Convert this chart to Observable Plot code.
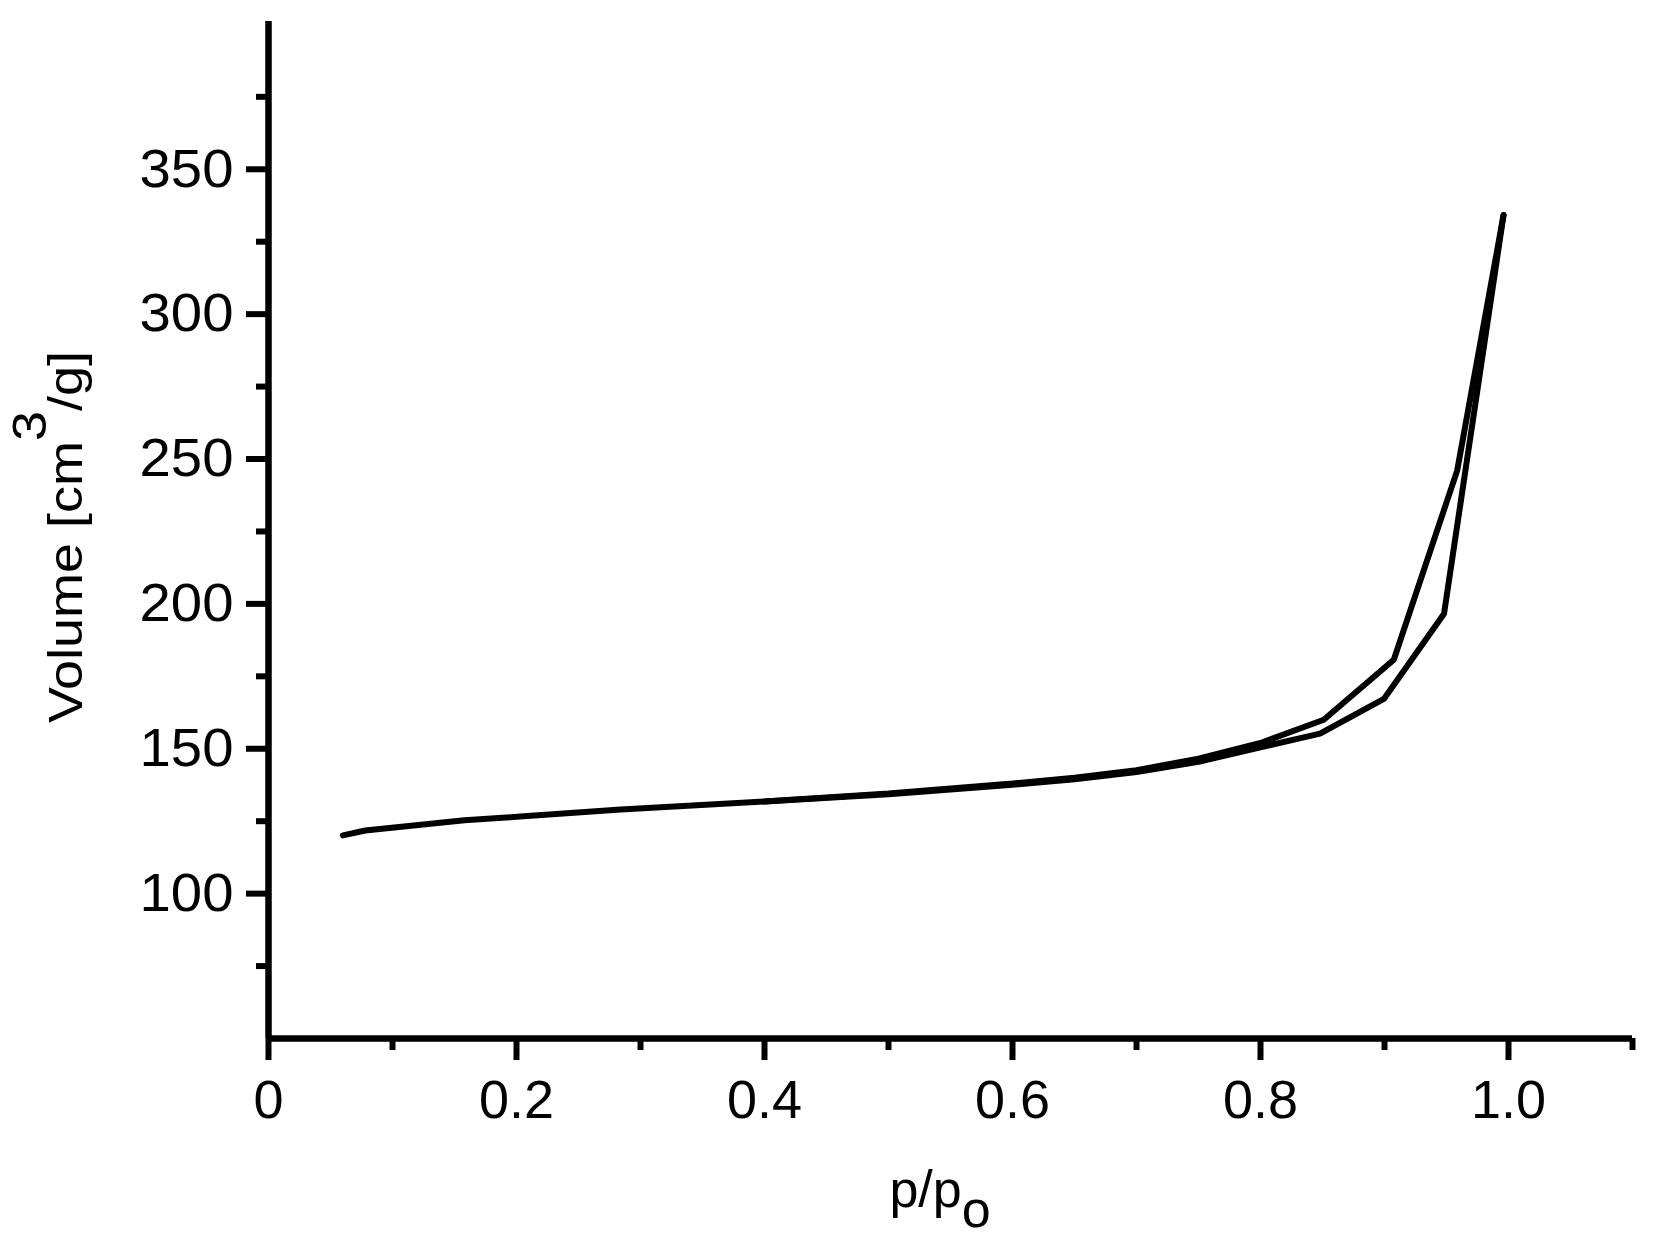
<!DOCTYPE html>
<html>
<head>
<meta charset="utf-8">
<script src="https://cdn.jsdelivr.net/npm/d3@7"></script>
<script src="https://cdn.jsdelivr.net/npm/@observablehq/plot@0.6"></script>
<style>
  html, body { margin: 0; padding: 0; background: #fff; }
  svg { display: block; }
</style>
</head>
<body>
<div id="chart"></div>
<script>
// Adsorption branch (lower)
const adsP = [0.060, 0.078, 0.158, 0.200, 0.284, 0.400, 0.500, 0.600, 0.650, 0.700, 0.750, 0.800, 0.848, 0.8995, 0.948, 0.996];
const adsV = [120.1, 121.8, 125.3, 126.5, 129.0, 131.8, 134.3, 137.6, 139.5, 142.0, 145.5, 150.5, 155.2, 167.2, 196.6, 334.2];
// Desorption branch (upper)
const desP = [0.996, 0.9586, 0.9075, 0.851, 0.800, 0.750, 0.700, 0.650, 0.600, 0.500, 0.400];
const desV = [334.2, 246.0, 180.7, 160.0, 152.0, 146.6, 142.6, 140.0, 138.0, 134.6, 131.8];

const xMajor = [0, 0.2, 0.4, 0.6, 0.8, 1.0];
const xMajorLabels = ["0", "0.2", "0.4", "0.6", "0.8", "1.0"];
const xMinor = [0.1, 0.3, 0.5, 0.7, 0.9, 1.1];
const yMajor = [100, 150, 200, 250, 300, 350];
const yMinor = [75, 125, 175, 225, 275, 325, 375];

const ads = adsP.map((p, i) => ({p, v: adsV[i]}));
const des = desP.map((p, i) => ({p, v: desV[i]}));

const font = "'Liberation Sans', Arial, sans-serif";

const svg = Plot.plot({
  width: 1653,
  height: 1244,
  marginLeft: 268,
  marginRight: 21,
  marginTop: 21,
  marginBottom: 206,
  x: {domain: [0, 1.1]},
  y: {domain: [50, 401]},
  style: {fontFamily: font, fontSize: "54px", color: "#000", background: "#fff", overflow: "visible"},
  marks: [
    Plot.axisX({ticks: xMajor, tickSize: 22, tickPadding: 19, strokeWidth: 6,
      tickFormat: d => xMajorLabels[xMajor.findIndex(t => Math.abs(t - d) < 1e-9)], label: null}),
    Plot.axisX({ticks: xMinor, tickSize: 12, strokeWidth: 6, tickFormat: () => "", label: null}),
    Plot.axisY({ticks: yMajor, tickSize: 22, tickPadding: 13, strokeWidth: 6,
      tickFormat: d => String(d), label: null}),
    Plot.axisY({ticks: yMinor, tickSize: 12, strokeWidth: 6, tickFormat: () => "", label: null}),
    Plot.ruleX([0], {stroke: "#000", strokeWidth: 6.5}),
    Plot.ruleY([50], {stroke: "#000", strokeWidth: 6.5}),
    Plot.line(ads, {x: "p", y: "v", stroke: "#000", strokeWidth: 6, strokeLinejoin: "miter", strokeLinecap: "round"}),
    Plot.line(des, {x: "p", y: "v", stroke: "#000", strokeWidth: 6, strokeLinejoin: "miter", strokeLinecap: "round"})
  ]
});

const s = d3.select(svg);

// Slightly wider y tick labels, as in the reference
s.selectAll("text").filter(function() {
  return /^\d{3}$/.test(this.textContent);
}).attr("textLength", 94).attr("lengthAdjust", "spacingAndGlyphs");

// Y axis title
const yt = s.append("text")
  .attr("transform", "translate(82,537) rotate(-90)")
  .attr("text-anchor", "middle")
  .attr("font-family", font)
  .attr("font-size", 48)
  .attr("textLength", 372)
  .attr("lengthAdjust", "spacingAndGlyphs")
  .attr("fill", "#000");
yt.append("tspan").text("Volume [cm");
yt.append("tspan").attr("dy", "-0.76em").text("3");
yt.append("tspan").attr("dy", "0.76em").text("/g]");

// X axis title
const xt = s.append("text")
  .attr("x", 940)
  .attr("y", 1207)
  .attr("text-anchor", "middle")
  .attr("font-family", font)
  .attr("font-size", 52)
  .attr("fill", "#000");
xt.append("tspan").text("p/p");
xt.append("tspan").attr("dy", "0.38em").text("o");

document.getElementById("chart").appendChild(svg);
</script>
</body>
</html>
